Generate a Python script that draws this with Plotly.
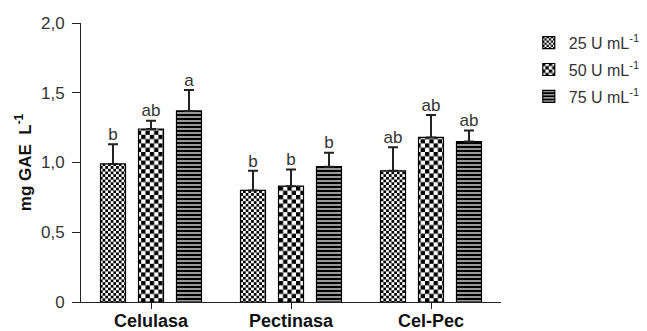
import plotly.graph_objects as go

categories = ["Celulasa", "Pectinasa", "Cel-Pec"]
series = ["25 U mL<sup>-1</sup>", "50 U mL<sup>-1</sup>", "75 U mL<sup>-1</sup>"]
val_25 = [0.99, 0.80, 0.94]
val_50 = [1.24, 0.83, 1.18]
val_75 = [1.37, 0.97, 1.15]
err_25 = [0.14, 0.14, 0.17]
err_50 = [0.06, 0.12, 0.16]
err_75 = [0.15, 0.10, 0.08]
let_25 = ["b", "b", "ab"]
let_50 = ["ab", "b", "ab"]
let_75 = ["a", "b", "ab"]
y_ticks = [0, 0.5, 1.0, 1.5, 2.0]
y_ticktext = ["0", "0,5", "1,0", "1,5", "2,0"]

FONT = "Liberation Sans, Arial, Helvetica, sans-serif"


def checker_path(s):
    h = s / 2
    return f"M0,0H{h}V{h}H0Z M{h},{h}H{s}V{s}H{h}Z"


def make_pattern(kind):
    if kind == "stripe":
        return dict(shape="-", size=4, solidity=0.3, fgcolor="white", bgcolor="black",
                    fillmode="overlay", fgopacity=1)
    s = 5.4 if kind == "fine" else 8.6
    try:
        return go.bar.marker.Pattern(path=checker_path(s), size=s, solidity=1, fgcolor="black",
                                     bgcolor="white", fillmode="overlay", fgopacity=1)
    except Exception:
        return dict(shape=".", size=s / 1.5, solidity=0.6, fgcolor="black", bgcolor="white",
                    fillmode="overlay", fgopacity=1)


fig = go.Figure()
specs = [
    (series[0], val_25, err_25, let_25, "fine"),
    (series[1], val_50, err_50, let_50, "coarse"),
    (series[2], val_75, err_75, let_75, "stripe"),
]
for i, (name, vals, errs, lets, kind) in enumerate(specs):
    fig.add_trace(go.Bar(
        x=categories, y=vals, name=name, offsetgroup=str(i), legendgroup=str(i),
        marker=dict(color="white", pattern=make_pattern(kind), line=dict(color="black", width=1.2)),
        error_y=dict(type="data", symmetric=False, array=errs, arrayminus=[0] * len(errs),
                     color="#222", thickness=2, width=5),
    ))
for i, (name, vals, errs, lets, kind) in enumerate(specs):
    fig.add_trace(go.Scatter(
        x=categories, y=[v + e for v, e in zip(vals, errs)], text=lets, mode="text",
        textposition="top center", offsetgroup=str(i), showlegend=False,
        textfont=dict(family=FONT, size=17, color="#333"), hoverinfo="skip",
    ))

# the page body adds an 8px offset, so the figure is 8px smaller on each side
fig.update_layout(
    width=639, height=323,
    margin=dict(l=73, r=146, t=15, b=29, autoexpand=False),
    paper_bgcolor="white", plot_bgcolor="white",
    barmode="group", bargap=0.186, bargroupgap=0.342,
    scattermode="group", scattergap=0.186,
    font=dict(family=FONT, size=16, color="#333"),
    legend=dict(xref="container", x=0.815, y=0.99, xanchor="left", yanchor="top",
                font=dict(family=FONT, size=16, color="#333"), tracegroupgap=3,
                bgcolor="rgba(0,0,0,0)"),
    showlegend=True,
)
fig.update_xaxes(
    range=[-0.5, 2.5], showline=True, linecolor="#222", linewidth=1,
    ticks="outside", ticklen=6, tickcolor="#222", automargin=False,
    tickfont=dict(family=FONT, size=18, color="#111", weight="bold"), ticklabelstandoff=-4,
    showgrid=False, zeroline=False,
)
fig.update_yaxes(
    range=[0, 2], tickvals=y_ticks, ticktext=y_ticktext, showline=True, linecolor="#222", linewidth=1,
    ticks="outside", ticklen=8, tickcolor="#222", showgrid=False, zeroline=False,
    tickfont=dict(family=FONT, size=17, color="#333"), ticklabelstandoff=4, automargin=False,
    title=dict(text="<b>mg GAE&nbsp; L<sup>-1</sup></b>", font=dict(family=FONT, size=17, color="#111"), standoff=5),
)

fig.write_html("out.html")
